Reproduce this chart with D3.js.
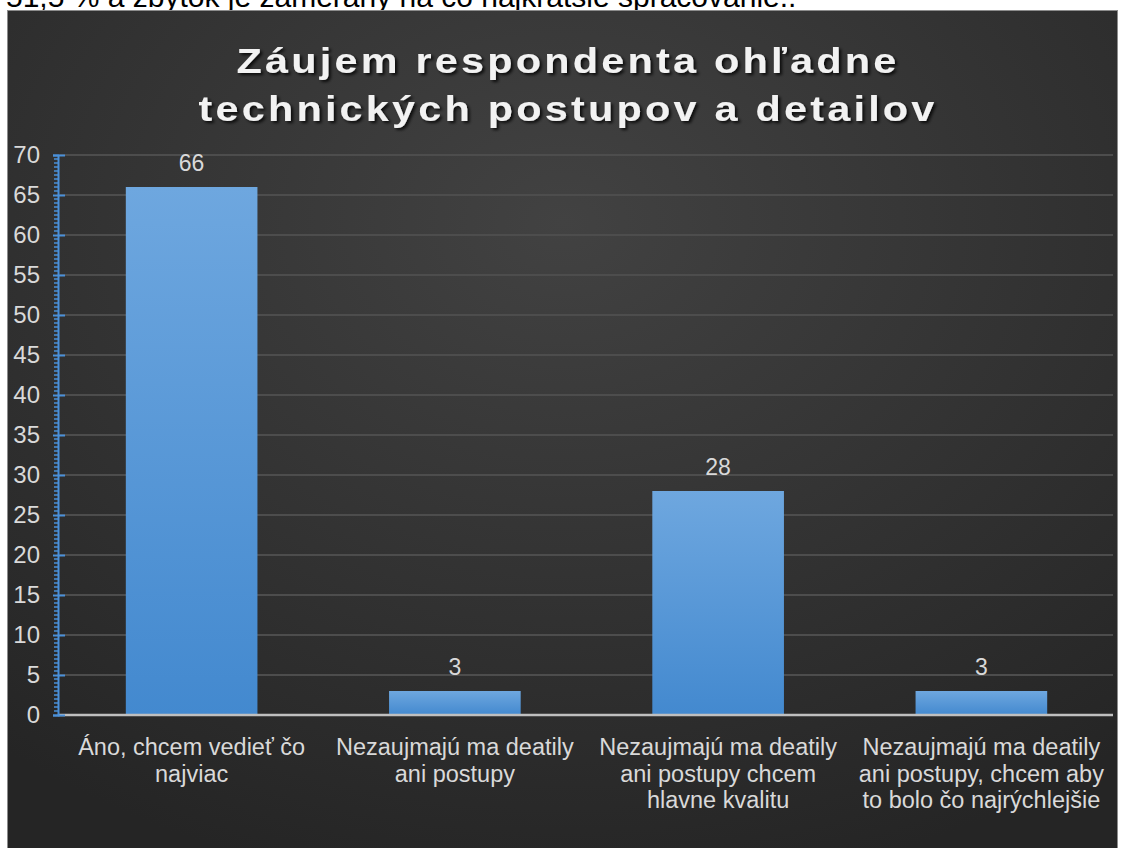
<!DOCTYPE html>
<html>
<head>
<meta charset="utf-8">
<script src="https://cdn.jsdelivr.net/npm/d3@7"></script>
<style>
  html, body { margin: 0; padding: 0; background: #fff; }
  svg { display: block; font-family: "Liberation Sans", Arial, sans-serif; }
</style>
</head>
<body>
<svg id="chart" width="1122" height="848"></svg>
<script>
// ── Data ──────────────────────────────────────────────────────────────────────
const categories = [
  ["Áno, chcem vedieť čo", "najviac"],
  ["Nezaujmajú ma deatily", "ani postupy"],
  ["Nezaujmajú ma deatily", "ani postupy chcem", "hlavne kvalitu"],
  ["Nezaujmajú ma deatily", "ani postupy, chcem aby", "to bolo čo najrýchlejšie"]
];
const values = [66, 3, 28, 3];
const yTicks = [0, 5, 10, 15, 20, 25, 30, 35, 40, 45, 50, 55, 60, 65, 70];
const titleLines = ["Záujem respondenta ohľadne", "technických postupov a detailov"];
const pageText = "51,5 % a zbytok je zameraný na čo najkratšie spracovanie..";

// ── Setup ─────────────────────────────────────────────────────────────────────
const svg = d3.select('#chart');
const W = 1122, H = 848;
const margin = { left: 60, right: 9, top: 155, bottom: 133 };

const defs = svg.append('defs');
const bg = defs.append('radialGradient')
  .attr('id', 'bg').attr('cx', '50%').attr('cy', '25%').attr('r', '80%');
bg.append('stop').attr('offset', '0%').attr('stop-color', '#424242');
bg.append('stop').attr('offset', '100%').attr('stop-color', '#252525');

const barGrad = defs.append('linearGradient')
  .attr('id', 'bar').attr('x1', 0).attr('x2', 0).attr('y1', 0).attr('y2', 1);
barGrad.append('stop').attr('offset', '0%').attr('stop-color', '#6ea7df');
barGrad.append('stop').attr('offset', '100%').attr('stop-color', '#4389cf');

const shadow = defs.append('filter').attr('id', 'shadow')
  .attr('x', '-5%').attr('y', '-20%').attr('width', '110%').attr('height', '140%');
shadow.append('feDropShadow')
  .attr('dx', 2).attr('dy', 2).attr('stdDeviation', 1.5)
  .attr('flood-color', '#000').attr('flood-opacity', 0.8);

// page text cut off above the chart
svg.append('text')
  .attr('x', 6).attr('y', 7)
  .attr('font-size', 30)
  .attr('fill', '#000')
  .text(pageText);

// chart frame
svg.append('rect')
  .attr('x', 7.5).attr('y', 10.5)
  .attr('width', 1110).attr('height', H)
  .attr('fill', 'url(#bg)')
  .attr('stroke', '#8c8c8c').attr('stroke-width', 1);

// title (slightly stretched wide, like the source)
const titleX = 568, sx = 1.15;
const title = svg.append('text')
  .attr('transform', `translate(${titleX},0) scale(${sx},1)`)
  .attr('text-anchor', 'middle')
  .attr('font-size', 36).attr('font-weight', 'bold')
  .attr('letter-spacing', 2.8)
  .attr('fill', '#f2f2f2')
  .attr('filter', 'url(#shadow)');
titleLines.forEach((l, i) => {
  title.append('tspan').attr('x', 0).attr('y', 73 + i * 48).text(l);
});

// ── Scales ────────────────────────────────────────────────────────────────────
const x = d3.scaleBand()
  .domain(d3.range(categories.length))
  .range([margin.left, W - margin.right])
  .paddingInner(0.5).paddingOuter(0.25);

const y = d3.scaleLinear()
  .domain([0, 70])
  .range([H - margin.bottom, margin.top]);

// gridlines
svg.append('g').selectAll('line')
  .data(yTicks.filter(t => t > 0))
  .join('line')
  .attr('x1', margin.left).attr('x2', W - margin.right)
  .attr('y1', d => y(d)).attr('y2', d => y(d))
  .attr('stroke', '#4d4d4d').attr('stroke-width', 2);

// bars
svg.append('g').selectAll('rect')
  .data(values)
  .join('rect')
  .attr('x', (d, i) => x(i))
  .attr('y', d => y(d))
  .attr('width', x.bandwidth())
  .attr('height', d => y(0) - y(d))
  .attr('fill', 'url(#bar)');

// value labels
svg.append('g').selectAll('text')
  .data(values)
  .join('text')
  .attr('x', (d, i) => x(i) + x.bandwidth() / 2)
  .attr('y', d => y(d) - 16)
  .attr('text-anchor', 'middle')
  .attr('font-size', 23)
  .attr('fill', '#d9d9d9')
  .text(d => d);

// x baseline
svg.append('line')
  .attr('x1', margin.left - 2).attr('x2', W - margin.right)
  .attr('y1', y(0)).attr('y2', y(0))
  .attr('stroke', '#bfbfbf').attr('stroke-width', 2.5);

// y axis
const yAxis = svg.append('g')
  .attr('transform', `translate(${margin.left - 2},0)`)
  .call(d3.axisLeft(y).tickValues(yTicks).tickSize(5).tickPadding(13));
yAxis.select('.domain').attr('stroke', '#4a90d9').attr('stroke-width', 2);
yAxis.selectAll('.tick line').attr('stroke', '#4a90d9').attr('stroke-width', 2)
  .attr('x1', 7);
yAxis.selectAll('.tick text')
  .attr('fill', '#d9d9d9').attr('font-size', 24)
  .attr('font-family', '"Liberation Sans", Arial, sans-serif');

// minor ticks
yAxis.append('g').selectAll('line')
  .data(d3.range(0, 70, 0.5).filter(v => v % 5 !== 0))
  .join('line')
  .attr('x1', -4).attr('x2', 0)
  .attr('y1', d => y(d)).attr('y2', d => y(d))
  .attr('stroke', '#4a90d9').attr('stroke-width', 1.5);

// category labels
const cat = svg.append('g').selectAll('text')
  .data(categories)
  .join('text')
  .attr('text-anchor', 'middle')
  .attr('font-size', 23.5)
  .attr('fill', '#d9d9d9');
cat.each(function(lines, i) {
  d3.select(this).selectAll('tspan')
    .data(lines)
    .join('tspan')
    .attr('x', x(i) + x.bandwidth() / 2)
    .attr('y', (d, j) => 755 + j * 26.5)
    .text(d => d);
});
</script>
</body>
</html>
